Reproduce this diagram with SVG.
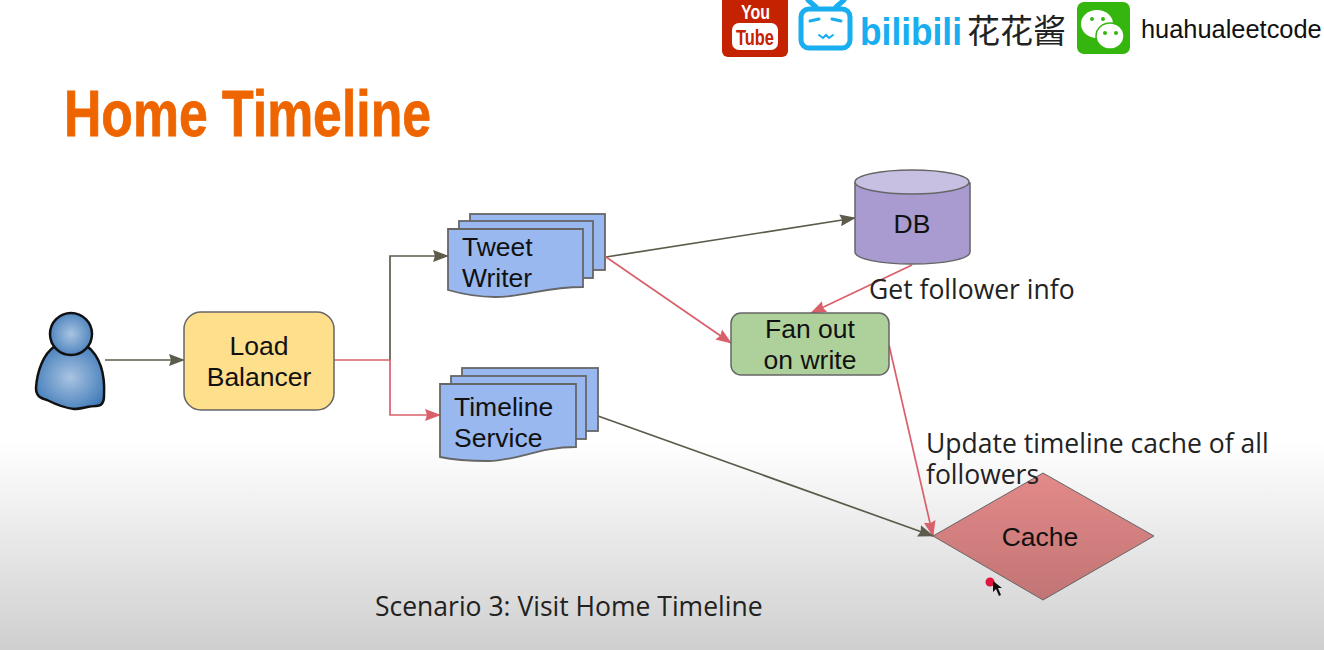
<svg xmlns="http://www.w3.org/2000/svg" width="1324" height="650" viewBox="0 0 1324 650">
<style>
.n{font-family:"Liberation Sans",Arial,sans-serif;font-size:26.5px;fill:#111;text-anchor:middle}
.l{font-family:"Liberation Sans",Arial,sans-serif;font-size:26.5px;fill:#111}
.o{font-family:"Open Sans","Noto Sans",sans-serif;font-size:26.5px;fill:#222}
.doc{fill:#98b8ef;stroke:#666;stroke-width:1.8}
.dark{fill:none;stroke:#5d5b4b;stroke-width:1.7}
.red{fill:none;stroke:#d9606a;stroke-width:1.7}
</style>
<defs>
<linearGradient id="bg" x1="0" y1="0" x2="0" y2="1"><stop offset="0" stop-color="#fff"/><stop offset=".68" stop-color="#fff"/><stop offset="1" stop-color="#cfcfcf"/></linearGradient>
<linearGradient id="cacheFill" x1="0" y1="0" x2="0" y2="1"><stop offset="0" stop-color="#e38a8a"/><stop offset="1" stop-color="#c27474"/></linearGradient>
<radialGradient id="body" cx=".5" cy=".5" r=".6"><stop offset="0" stop-color="#a9c4e2"/><stop offset="1" stop-color="#3f7ab8"/></radialGradient>
<marker id="ad" markerWidth="16" markerHeight="12" refX="15" refY="6" orient="auto" markerUnits="userSpaceOnUse"><path d="M0 0L16 6L0 12L2 6Z" fill="#5d5b4b"/></marker>
<marker id="ar" markerWidth="16" markerHeight="12" refX="15" refY="6" orient="auto" markerUnits="userSpaceOnUse"><path d="M0 0L16 6L0 12L2 6Z" fill="#d9606a"/></marker>
</defs>
<rect width="1324" height="650" fill="url(#bg)"/>
<g id="logos">
<rect x="722" y="-8" width="66" height="65" rx="6" fill="#c42200"/>
<text x="741" y="19" font-family="Liberation Sans,sans-serif" font-weight="bold" font-size="21" fill="#fff" textLength="29" lengthAdjust="spacingAndGlyphs">You</text>
<rect x="732" y="23" width="46" height="27" rx="7" fill="#fff"/>
<text x="736" y="45" font-family="Liberation Sans,sans-serif" font-weight="bold" font-size="22" fill="#c42200" textLength="38" lengthAdjust="spacingAndGlyphs">Tube</text>
<g fill="none" stroke="#18aef0" stroke-width="5" stroke-linecap="round"><rect x="801" y="9" width="49" height="39" rx="8"/><path d="M816 7L808 0M836 7L844 0"/><path d="M810 21L819 19M832 19L841 21" stroke-width="3"/><path d="M819 35L823 38L826 35L829 38L833 35" stroke-width="2"/></g>
<text x="860" y="45" font-family="Liberation Sans,sans-serif" font-weight="bold" font-size="38" fill="#18aef0" textLength="102" lengthAdjust="spacingAndGlyphs">bilibili</text>
<text x="967" y="43" font-family="Noto Sans CJK SC,sans-serif" font-size="33" fill="#222">花花酱</text>
<rect x="1077" y="2" width="53" height="52" rx="7" fill="#35b60f"/>
<ellipse cx="1097" cy="24" rx="16" ry="14" fill="#fff"/><ellipse cx="1110" cy="36" rx="14" ry="13" fill="#fff" stroke="#35b60f" stroke-width="1.5"/>
<circle cx="1092" cy="19" r="2" fill="#35b60f"/><circle cx="1103" cy="19" r="2" fill="#35b60f"/><circle cx="1105" cy="33" r="2" fill="#35b60f"/><circle cx="1116" cy="33" r="2" fill="#35b60f"/>
<text x="1141" y="38" font-family="Liberation Sans,sans-serif" font-size="25.4" fill="#111">huahualeetcode</text>
</g>
<text x="64" y="136" font-family="Liberation Sans Narrow,Liberation Sans,sans-serif" font-weight="bold" font-size="64" fill="#ee6500" stroke="#ee6500" stroke-width=".8" textLength="367" lengthAdjust="spacingAndGlyphs">Home Timeline</text>
<g id="connectors">
<path class="dark" d="M105 360H184" marker-end="url(#ad)"/>
<path class="dark" d="M390 360V256H448" marker-end="url(#ad)"/>
<path class="red" d="M390 360V415H440" marker-end="url(#ar)"/>
<path class="red" d="M334 360H390"/>
<path class="dark" d="M606 257L855 218" marker-end="url(#ad)"/>
<path class="red" d="M606 257L731 343" marker-end="url(#ar)"/>
<path class="red" d="M912 265L811 313" marker-end="url(#ar)"/>
<path class="red" d="M889 345L933 536" marker-end="url(#ar)"/>
<path class="dark" d="M598 416L933 536" marker-end="url(#ad)"/>
</g>
<g id="user">
<path d="M55 346C43 354 37 372 36 388C36 396 40 398 47 400C55 404 64 408 74 409C82 409 88 406 96 406C102 406 104 402 104 396C105 378 102 358 87 346Z" fill="url(#body)" stroke="#111" stroke-width="2.5"/>
<ellipse cx="71" cy="334" rx="21" ry="21" fill="url(#body)" stroke="#111" stroke-width="2.5"/>
</g>
<g id="load-balancer"><rect x="184" y="312" width="150" height="98" rx="17" fill="#fedf8c" stroke="#666" stroke-width="1.5"/><text class="n" x="259" y="355">Load</text><text class="n" x="259" y="386">Balancer</text></g>
<g id="tweet-writer">
<rect class="doc" x="470" y="214" width="135" height="56"/>
<rect class="doc" x="459" y="221" width="134" height="57"/>
<path class="doc" d="M448 229H583V287C545 287 525 297 495 297C475 297 462 294 448 290Z"/>
<text class="l" x="462" y="256">Tweet</text><text class="l" x="462" y="287">Writer</text>
</g>
<g id="timeline-service">
<rect class="doc" x="462" y="368" width="136" height="63"/>
<rect class="doc" x="451" y="376" width="135" height="63"/>
<path class="doc" d="M440 384H576V447C538 447 518 461 488 461C468 461 454 460 440 457Z"/>
<text class="l" x="454" y="416">Timeline</text><text class="l" x="454" y="447">Service</text>
</g>
<g id="db">
<path d="M855 183V252C855 259 880 264 912 264C945 264 970 259 970 252V183Z" fill="#a99bd0" stroke="#666" stroke-width="1.5"/>
<ellipse cx="912" cy="182" rx="57" ry="12" fill="#c8c0e2" stroke="#666" stroke-width="1.5"/>
<text class="n" x="912" y="233">DB</text>
</g>
<g id="fan-out"><rect x="731" y="313" width="158" height="62" rx="10" fill="#aed19c" stroke="#666" stroke-width="1.5"/><text class="n" x="810" y="338">Fan out</text><text class="n" x="810" y="369">on write</text></g>
<g id="cache"><path d="M933 536L1043 473L1154 536L1043 600Z" fill="url(#cacheFill)" stroke="#666" stroke-width="1"/><text class="n" x="1040" y="546">Cache</text></g>
<text class="o" x="869" y="299">Get follower info</text>
<text class="o" x="926" y="453">Update timeline cache of all</text>
<text class="o" x="926" y="484">followers</text>
<text class="o" x="375" y="616">Scenario 3: Visit Home Timeline</text>
<circle cx="990" cy="582" r="4.5" fill="#e0143c"/>
<path d="M993 581L993 592L996 589L999 596L1001 595L998 588L1002 588Z" fill="#111"/>
</svg>
